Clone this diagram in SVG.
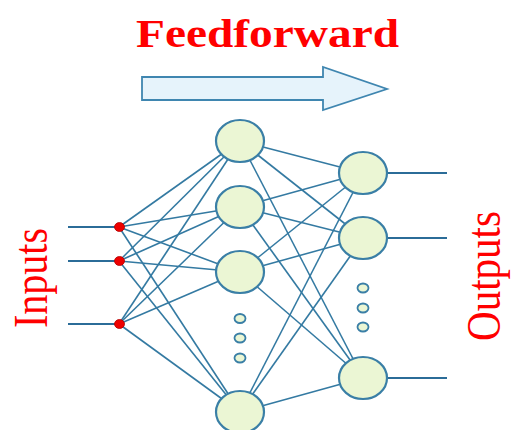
<svg xmlns="http://www.w3.org/2000/svg" width="511" height="430" viewBox="0 0 511 430">
  <style>
    .title { font-family: "Liberation Serif", "Times New Roman", serif; font-weight: bold; fill: #ff0000; }
    .label { font-family: "Liberation Serif", "Times New Roman", serif; fill: #ff0000; }
    .node { fill: #ebf6d4; stroke: #3a7fa6; stroke-width: 2.2; }
    .dot { fill: #ebf6d4; stroke: #3a7fa6; stroke-width: 1.8; }
    .edge { stroke: #347aa2; stroke-width: 1.6; fill: none; }
    .io { stroke: #2b6c98; stroke-width: 2; fill: none; }
    .in { fill: #ee0000; stroke: #b00000; stroke-width: 0.8; }
  </style>
  <rect width="511" height="430" fill="#ffffff"/>

  <!-- title and direction arrow -->
  <text class="title" x="136" y="46.5" font-size="41" textLength="263" lengthAdjust="spacingAndGlyphs">Feedforward</text>
  <polygon points="142,77 323,77 323,67 387,89 323,110 323,100 142,100" fill="#e6f3fb" stroke="#3f86b0" stroke-width="1.8" stroke-linejoin="miter"/>

  <!-- side labels -->
  <text class="label" font-size="40" text-anchor="middle" transform="translate(47,278) scale(1.2,1) rotate(-90)">Inputs</text>
  <text class="label" font-size="41" text-anchor="middle" transform="translate(500,276) scale(1.2,1) rotate(-90)">Outputs</text>

  <!-- connectors -->
  <g id="connectors">
    <!-- input stubs -->
    <line class="io" x1="68" y1="227" x2="119" y2="227"/>
    <line class="io" x1="68" y1="261" x2="119" y2="261"/>
    <line class="io" x1="68" y1="324" x2="119" y2="324"/>
    <!-- inputs to hidden layer -->
    <line class="edge" x1="119" y1="227" x2="240" y2="141"/>
    <line class="edge" x1="119" y1="227" x2="240" y2="207"/>
    <line class="edge" x1="119" y1="227" x2="240" y2="272"/>
    <line class="edge" x1="119" y1="227" x2="240" y2="412"/>
    <line class="edge" x1="119" y1="261" x2="240" y2="141"/>
    <line class="edge" x1="119" y1="261" x2="240" y2="207"/>
    <line class="edge" x1="119" y1="261" x2="240" y2="272"/>
    <line class="edge" x1="119" y1="261" x2="240" y2="412"/>
    <line class="edge" x1="119" y1="324" x2="240" y2="141"/>
    <line class="edge" x1="119" y1="324" x2="240" y2="207"/>
    <line class="edge" x1="119" y1="324" x2="240" y2="272"/>
    <line class="edge" x1="119" y1="324" x2="240" y2="412"/>
    <!-- hidden layer to outputs -->
    <line class="edge" x1="240" y1="141" x2="363" y2="173"/>
    <line class="edge" x1="240" y1="141" x2="363" y2="238"/>
    <line class="edge" x1="240" y1="141" x2="363" y2="378"/>
    <line class="edge" x1="240" y1="207" x2="363" y2="173"/>
    <line class="edge" x1="240" y1="207" x2="363" y2="238"/>
    <line class="edge" x1="240" y1="207" x2="363" y2="378"/>
    <line class="edge" x1="240" y1="272" x2="363" y2="173"/>
    <line class="edge" x1="240" y1="272" x2="363" y2="238"/>
    <line class="edge" x1="240" y1="272" x2="363" y2="378"/>
    <line class="edge" x1="240" y1="412" x2="363" y2="173"/>
    <line class="edge" x1="240" y1="412" x2="363" y2="238"/>
    <line class="edge" x1="240" y1="412" x2="363" y2="378"/>
    <!-- output stubs -->
    <line class="io" x1="386" y1="173" x2="447" y2="173"/>
    <line class="io" x1="386" y1="238" x2="447" y2="238"/>
    <line class="io" x1="386" y1="378" x2="447" y2="378"/>
  </g>

  <!-- input points -->
  <g id="input-1"><ellipse class="in" cx="119.5" cy="227" rx="5" ry="4.5"/></g>
  <g id="input-2"><ellipse class="in" cx="119.5" cy="261" rx="5" ry="4.5"/></g>
  <g id="input-3"><ellipse class="in" cx="119.5" cy="324" rx="5" ry="4.5"/></g>

  <!-- hidden layer -->
  <g id="hidden-1"><ellipse class="node" cx="240" cy="141" rx="24" ry="21"/></g>
  <g id="hidden-2"><ellipse class="node" cx="240" cy="207" rx="24" ry="21"/></g>
  <g id="hidden-3"><ellipse class="node" cx="240" cy="272" rx="24" ry="21"/></g>
  <g id="hidden-ellipsis">
    <ellipse class="dot" cx="240" cy="318.5" rx="5.5" ry="4.5"/>
    <ellipse class="dot" cx="240" cy="338" rx="5.5" ry="4.5"/>
    <ellipse class="dot" cx="240" cy="358" rx="5.5" ry="4.5"/>
  </g>
  <g id="hidden-n"><ellipse class="node" cx="240" cy="412" rx="24" ry="21"/></g>

  <!-- output layer -->
  <g id="output-1"><ellipse class="node" cx="363" cy="173" rx="24" ry="21"/></g>
  <g id="output-2"><ellipse class="node" cx="363" cy="238" rx="24" ry="21"/></g>
  <g id="output-ellipsis">
    <ellipse class="dot" cx="363" cy="288" rx="5.5" ry="4.5"/>
    <ellipse class="dot" cx="363" cy="308" rx="5.5" ry="4.5"/>
    <ellipse class="dot" cx="363" cy="327" rx="5.5" ry="4.5"/>
  </g>
  <g id="output-n"><ellipse class="node" cx="363" cy="378" rx="24" ry="21"/></g>
</svg>
